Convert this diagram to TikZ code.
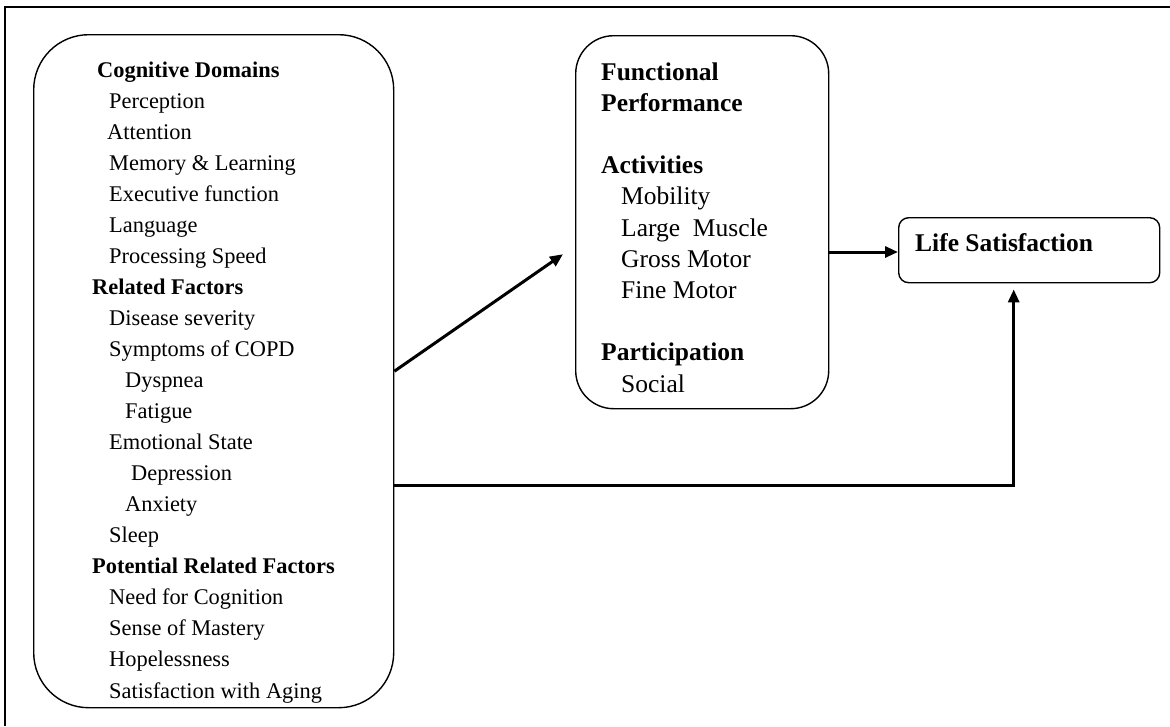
\documentclass[tikz,border=0pt]{standalone}
\usepackage{fontspec}
\setmainfont{Liberation Serif}
\usetikzlibrary{arrows.meta,calc}

\tikzset{
  roundbox/.style={draw, line width=1.4pt, anchor=north west, inner sep=0pt},
  smalltxt/.style={anchor=base west, inner sep=0pt, font=\fontsize{22.4}{26}\selectfont},
  bigtxt/.style={anchor=base west, inner sep=0pt, font=\fontsize{25.5}{30}\selectfont},
  arr/.style={line width=3pt, -{Triangle[length=13pt,width=11pt]}},
  frameline/.style={line width=2pt}
}

\begin{document}
\begin{tikzpicture}[x=1pt,y=-1pt]
\useasboundingbox (0,0) rectangle (1170,726);

% partial outer frame
\draw[frameline] (5,726) -- (5,7) -- (1170,7);

% boxes
\node[roundbox, rounded corners=55pt, minimum width=360pt, minimum height=673pt] (left) at (33,34) {};
\node[roundbox, rounded corners=38pt, minimum width=253pt, minimum height=373pt] (mid) at (575,35) {};
\node[roundbox, rounded corners=10pt, minimum width=261pt, minimum height=65pt] (ls) at (898,217) {};

% contents of the left box
\foreach \xx/\txt [count=\i] in {
  97/\textbf{Cognitive Domains},
  109/Perception,
  107/Attention,
  109/Memory \& Learning,
  109/Executive function,
  109/Language,
  109/Processing Speed,
  92/\textbf{Related Factors},
  109/Disease severity,
  109/Symptoms of COPD,
  125/Dyspnea,
  125/Fatigue,
  109/Emotional State,
  131/Depression,
  125/Anxiety,
  109/Sleep,
  92/\textbf{Potential Related Factors},
  109/Need for Cognition,
  109/Sense of Mastery,
  109/Hopelessness,
  109/Satisfaction with Aging}
  \node[smalltxt] (lt\i) at (\xx, 77+31.05*\i-31.05) {\txt};

% contents of the middle box
\foreach \xx/\txt [count=\i] in {
  601/\textbf{Functional},
  601/\textbf{Performance},
  601/{},
  601/\textbf{Activities},
  621/Mobility,
  621/Large\ \ Muscle,
  621/Gross Motor,
  621/Fine Motor,
  601/{},
  601/\textbf{Participation},
  621/Social}
  \node[bigtxt] (mt\i) at (\xx, 80+31.2*\i-31.2) {\txt};

% label of the right box
\node[bigtxt] (lstxt) at (915,251) {\textbf{Life Satisfaction}};

% connectors
\coordinate (midin) at ($(mid.west)+(-12,32)$);
\coordinate (lsin) at ($(ls.south)+(-15.5,6)$);
\draw[arr] (left.east) -- (midin);
\draw[arr] (mid.east |- 0,252) -- (ls.west |- 0,252);
\draw[arr] (left.east |- 0,485) -| (lsin);
\end{tikzpicture}
\end{document}
